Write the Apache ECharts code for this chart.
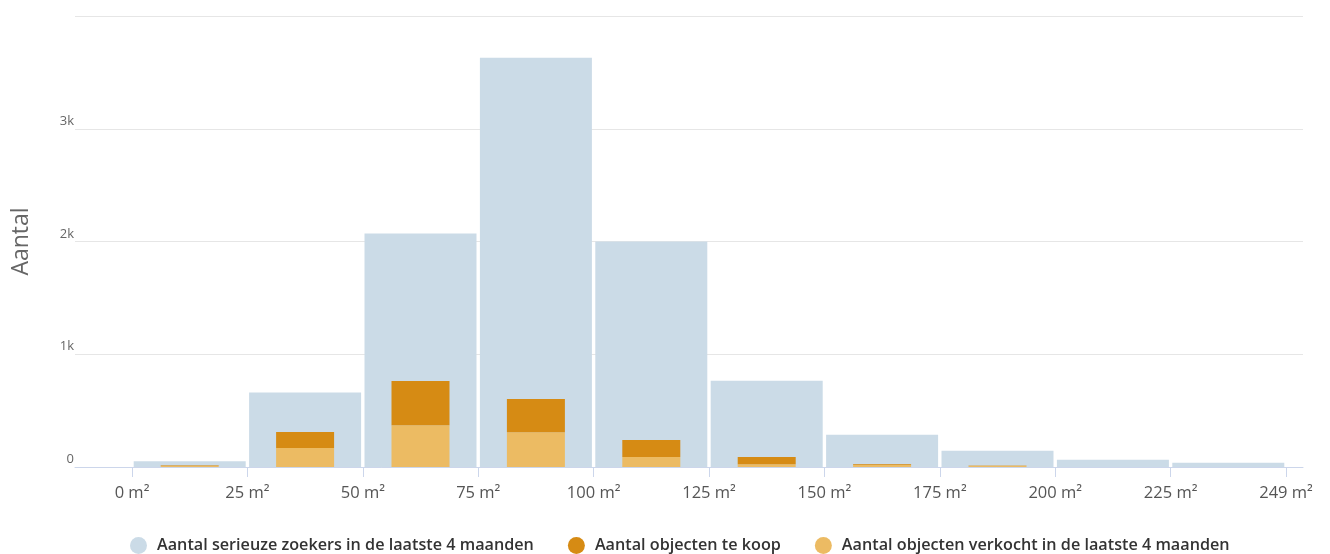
<!DOCTYPE html>
<html><head><meta charset="utf-8">
<script src="https://cdn.jsdelivr.net/npm/echarts@6/dist/echarts.min.js"></script>
<style>html,body{margin:0;padding:0;background:#fff}#c{width:1330px;height:554px}</style>
</head><body><div id="c"></div>
<script>
const tickLabels = ['0 m²','25 m²','50 m²','75 m²','100 m²','125 m²','150 m²','175 m²','200 m²','225 m²','249 m²'];
const bins = ['0-25','25-50','50-75','75-100','100-125','125-150','150-175','175-200','200-225','225-249'];
const zoekers = [50, 660, 2070, 3630, 2000, 765, 285, 145, 65, 38];
const teKoop = [3, 142, 392, 295, 152, 63, 6, 3, 0, 0];
const verkocht = [12, 168, 371, 308, 88, 25, 20, 10, 0, 0];
const names = ['Aantal serieuze zoekers in de laatste 4 maanden','Aantal objecten te koop','Aantal objecten verkocht in de laatste 4 maanden'];

const tickVals = tickLabels.map((_, i) => i);
const FONT = 'Open Sans';
const xMin = -0.494, xMax = 10.147;

const chart = echarts.init(document.getElementById('c'), null, {renderer: 'canvas'});
chart.setOption({
  animation: false,
  textStyle: {fontFamily: FONT},
  grid: [
    {left: 75, right: 27, top: 16, bottom: 87, containLabel: false, outerBoundsMode: 'none'},
    {left: 132, right: 44, top: 16, bottom: 87, containLabel: false, outerBoundsMode: 'none'}
  ],
  legend: {
    top: 532, left: 125, icon: 'circle', itemWidth: 17, itemHeight: 17, itemGap: 34,
    data: [names[0], names[1], names[2]],
    textStyle: {fontFamily: FONT, fontSize: 16.2, color: '#333', fontWeight: 600, padding: [0, 0, 0, 5]}
  },
  xAxis: [{
    gridIndex: 0, type: 'value', min: xMin, max: xMax,
    axisLine: {show: true, lineStyle: {color: '#ccd6eb', width: 1}},
    axisTick: {show: true, length: 10, lineStyle: {color: '#ccd6eb'}, customValues: tickVals},
    axisLabel: {customValues: tickVals, formatter: v => tickLabels[Math.round(v)], fontFamily: FONT, fontSize: 16.5, color: '#555', margin: 18},
    splitLine: {show: false}
  }, {
    gridIndex: 1, type: 'category', data: bins, show: false
  }, {
    gridIndex: 1, type: 'category', data: bins, show: false
  }],
  yAxis: [{
    gridIndex: 0, type: 'value', min: 0, max: 4000, interval: 1000,
    name: 'Aantal', nameLocation: 'middle', nameGap: 42,
    nameTextStyle: {fontFamily: FONT, fontSize: 23, color: '#666'},
    axisLine: {show: false}, axisTick: {show: false},
    axisLabel: {
      showMaxLabel: false, fontFamily: FONT, fontSize: 13, color: '#666', margin: 1,
      verticalAlign: 'bottom', padding: [0, 0, 1, 0],
      formatter: v => v === 0 ? '0' : (v / 1000) + 'k'
    },
    splitLine: {lineStyle: {color: '#e6e6e6'}}
  }, {
    gridIndex: 1, type: 'value', min: 0, max: 4000, interval: 1000, show: false, splitLine: {show: false}
  }],
  series: [{
    name: names[0], type: 'bar', xAxisIndex: 1, yAxisIndex: 1, data: zoekers, barWidth: 112,
    itemStyle: {color: '#cbdbe7'}
  }, {
    name: names[2], type: 'bar', xAxisIndex: 2, yAxisIndex: 1, stack: 'obj', data: verkocht, barWidth: 58,
    itemStyle: {color: '#ecbb63'}
  }, {
    name: names[1], type: 'bar', xAxisIndex: 2, yAxisIndex: 1, stack: 'obj', data: teKoop, barWidth: 58,
    itemStyle: {color: '#d68b14'}
  }]
});
</script></body></html>
